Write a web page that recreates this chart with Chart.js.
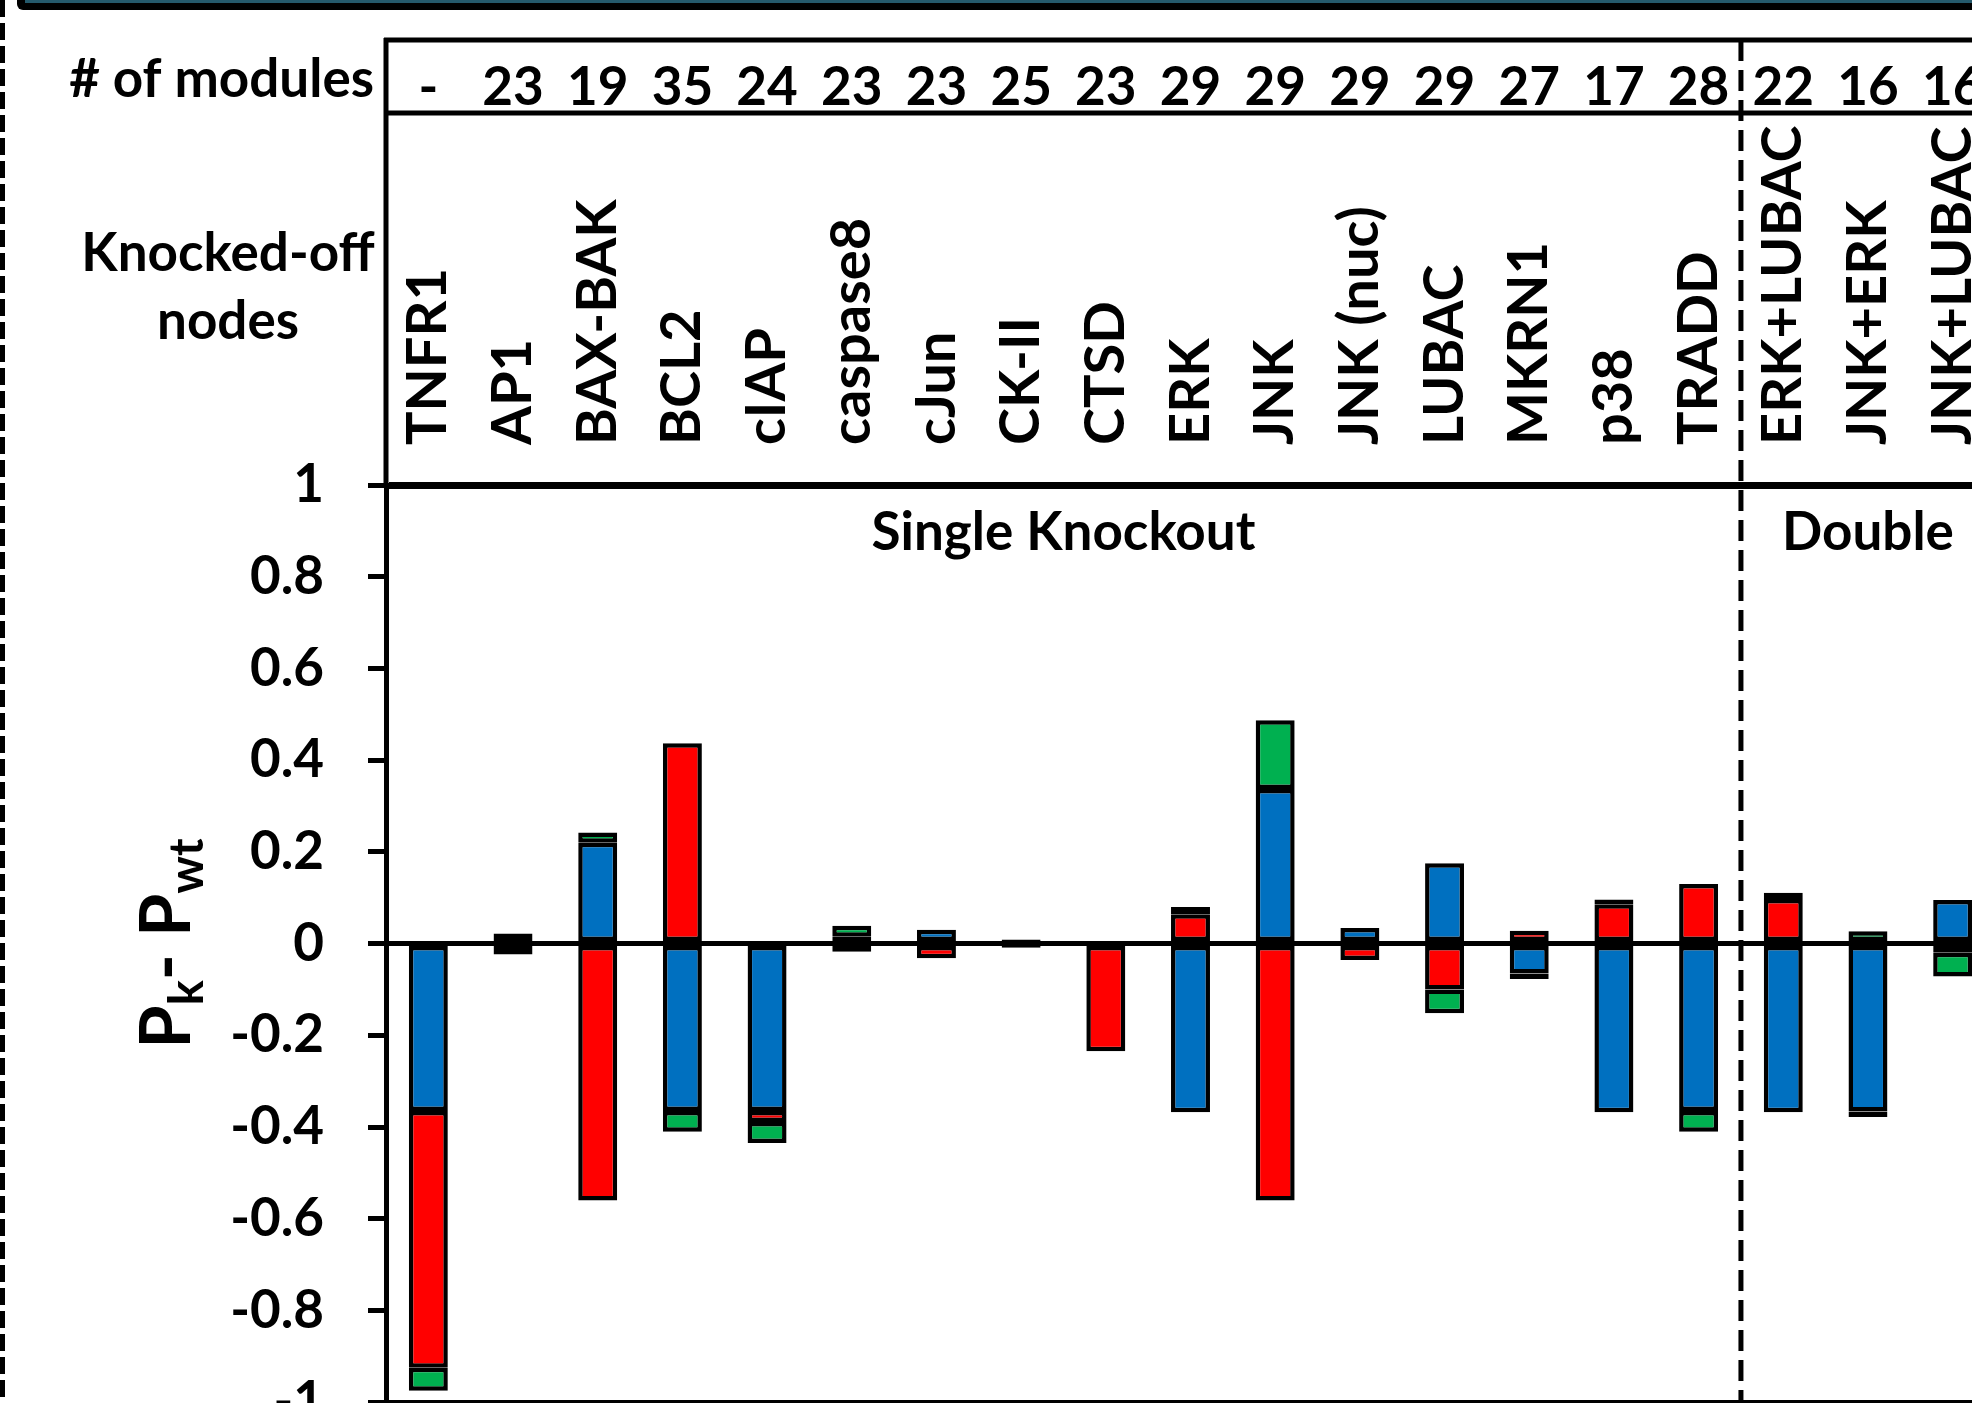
<!DOCTYPE html>
<html>
<head>
<meta charset="utf-8">
<script src="https://cdn.jsdelivr.net/npm/chart.js@4.4.1/dist/chart.umd.min.js"></script>
<style>
  html, body { margin: 0; padding: 0; background: #fff; overflow: hidden; }
  #wrap { position: relative; width: 1972px; height: 1403px; overflow: hidden; }
  #knockoutChart { position: absolute; left: 0; top: 0; }
</style>
</head>
<body>
<div id="wrap"><canvas id="knockoutChart" width="2000" height="1478"></canvas></div>
<script>
// knocked-off nodes (single knockouts first, then doubles)
const nodes = ['TNFR1', 'AP1', 'BAX-BAK', 'BCL2', 'cIAP', 'caspase8', 'cJun', 'CK-II', 'CTSD',
  'ERK', 'JNK', 'JNK (nuc)', 'LUBAC', 'MKRN1', 'p38', 'TRADD', 'ERK+LUBAC', 'JNK+ERK', 'JNK+LUBAC'];
const modules = ['-', '23', '19', '35', '24', '23', '23', '25', '23', '29', '29', '29', '29', '27', '17', '28', '22', '16', '16'];

// Pk - Pwt per outcome (stacked)
const blueVals = [-0.365, 0.022, 0.22, -0.365, -0.365, 0.015, 0.03, 0.009, 0.005, -0.368, 0.337, 0.034,
  0.175, -0.065, -0.368, -0.365, -0.368, -0.366, 0.095];
const redVals = [-0.56, -0.024, -0.56, 0.437, -0.024, -0.018, -0.032, -0.009, -0.235, 0.064, -0.56, -0.036,
  -0.1, 0.028, 0.086, 0.13, 0.097, -0.012, -0.02];
const greenVals = [-0.05, 0, 0.022, -0.045, -0.046, 0.024, 0, 0, 0, 0.016, 0.15, 0,
  -0.052, -0.012, 0.01, -0.045, 0.014, 0.027, -0.052];

const yTicks = [1, 0.8, 0.6, 0.4, 0.2, 0, -0.2, -0.4, -0.6, -0.8, -1];
const groupNames = ['Single Knockout', 'Double'];
const groupSizes = [16, 3];

const FONT = 'Lato, "Open Sans", sans-serif';
const bold = (size) => `bold ${size}px ${FONT}`;

const headerTable = {
  id: 'headerTable',
  afterDraw(chart) {
    const { ctx, chartArea, scales: { x } } = chart;
    const W = chart.width, H = chart.height;
    const left = chartArea.left;

    ctx.save();
    // frame bits from the surrounding figure
    ctx.fillStyle = '#000';
    ctx.beginPath();
    ctx.roundRect(17, -8, W, 18, 6);
    ctx.fill();
    ctx.fillStyle = '#255a6c';
    ctx.fillRect(25, 0, W, 3);

    ctx.strokeStyle = '#000';
    ctx.lineWidth = 5;
    ctx.setLineDash([17, 6]);
    ctx.beginPath();
    ctx.moveTo(2.5, 0);
    ctx.lineTo(2.5, H);
    ctx.stroke();
    ctx.setLineDash([]);

    // table lines
    ctx.lineWidth = 5;
    ctx.beginPath();
    ctx.moveTo(left - 2, 40); ctx.lineTo(W, 40);
    ctx.moveTo(left - 2, 113); ctx.lineTo(W, 113);
    ctx.moveTo(left, 38); ctx.lineTo(left, chartArea.top);
    ctx.stroke();

    // separator between single and double knockouts
    const sepX = (x.getPixelForValue(groupSizes[0] - 1) + x.getPixelForValue(groupSizes[0])) / 2;
    ctx.lineWidth = 5;
    ctx.setLineDash([21, 9]);
    ctx.beginPath();
    ctx.moveTo(sepX, 40);
    ctx.lineTo(sepX, H);
    ctx.stroke();
    ctx.setLineDash([]);

    ctx.fillStyle = '#000';
    // row titles
    ctx.font = bold(53);
    ctx.textAlign = 'right';
    ctx.textBaseline = 'alphabetic';
    ctx.fillText('# of modules', left - 12, 97);
    ctx.textAlign = 'center';
    ctx.fillText('Knocked-off', 228, 271);
    ctx.fillText('nodes', 228, 339);

    // module counts
    modules.forEach((m, i) => {
      ctx.fillText(m, x.getPixelForValue(i), 105);
    });

    // node names, rotated
    ctx.font = bold(56);
    ctx.textAlign = 'left';
    ctx.textBaseline = 'middle';
    nodes.forEach((n, i) => {
      ctx.save();
      ctx.translate(x.getPixelForValue(i), 445);
      ctx.rotate(-Math.PI / 2);
      ctx.fillText(n, 0, 0);
      ctx.restore();
    });

    // group titles
    ctx.font = bold(53);
    ctx.textAlign = 'center';
    ctx.textBaseline = 'alphabetic';
    let start = 0;
    groupNames.forEach((g, gi) => {
      const end = start + groupSizes[gi] - 1;
      const cx = (x.getPixelForValue(start) + x.getPixelForValue(end)) / 2;
      ctx.fillText(g, cx, 550);
      start = end + 1;
    });

    // y title: Pk- Pwt
    const parts = [
      { t: 'P', f: bold(70), dy: 0 },
      { t: 'k', f: bold(47), dy: 13 },
      { t: '- ', f: bold(70), dy: 0 },
      { t: 'P', f: bold(70), dy: 0 },
      { t: 'wt', f: bold(47), dy: 13 }
    ];
    let total = 0;
    parts.forEach((p) => { ctx.font = p.f; p.w = ctx.measureText(p.t).width; total += p.w; });
    ctx.translate(190, (chartArea.top + chartArea.bottom) / 2);
    ctx.rotate(-Math.PI / 2);
    ctx.textAlign = 'left';
    let px = -total / 2;
    parts.forEach((p) => { ctx.font = p.f; ctx.fillText(p.t, px, p.dy); px += p.w; });
    ctx.restore();
  }
};

const ctx = document.getElementById('knockoutChart').getContext('2d');

new Chart(ctx, {
  type: 'bar',
  data: {
    labels: nodes,
    datasets: [
      { label: 'blue', data: blueVals, backgroundColor: '#0070C0' },
      { label: 'red', data: redVals, backgroundColor: '#FF0000' },
      { label: 'green', data: greenVals, backgroundColor: '#00B050' }
    ]
  },
  options: {
    responsive: false,
    animation: false,
    devicePixelRatio: 1,
    layout: { padding: { top: 485, bottom: 40, left: 0, right: 5 } },
    plugins: { legend: { display: false }, tooltip: { enabled: false } },
    datasets: {
      bar: {
        borderColor: '#000',
        borderWidth: 4.5,
        borderSkipped: false,
        barPercentage: 0.46,
        categoryPercentage: 1
      }
    },
    scales: {
      x: { stacked: true, display: false },
      y: {
        stacked: true,
        min: -1,
        max: 1,
        afterBuildTicks: (s) => { s.ticks = yTicks.map((v) => ({ value: v })); },
        afterFit: (s) => { s.width = 386; },
        ticks: {
          font: { family: FONT, size: 53, weight: 'bold' },
          color: '#000',
          padding: 44,
          callback: (v) => String(v)
        },
        grid: {
          drawOnChartArea: true,
          color: (c) => (c.tick && [1, 0, -1].includes(c.tick.value) ? '#000' : 'rgba(0,0,0,0)'),
          lineWidth: (c) => (c.tick && c.tick.value === 1 ? 7 : 5),
          tickLength: 18,
          tickColor: '#000',
          tickWidth: 5
        },
        border: { display: true, color: '#000', width: 5 }
      }
    }
  },
  plugins: [headerTable]
});
</script>
</body>
</html>
